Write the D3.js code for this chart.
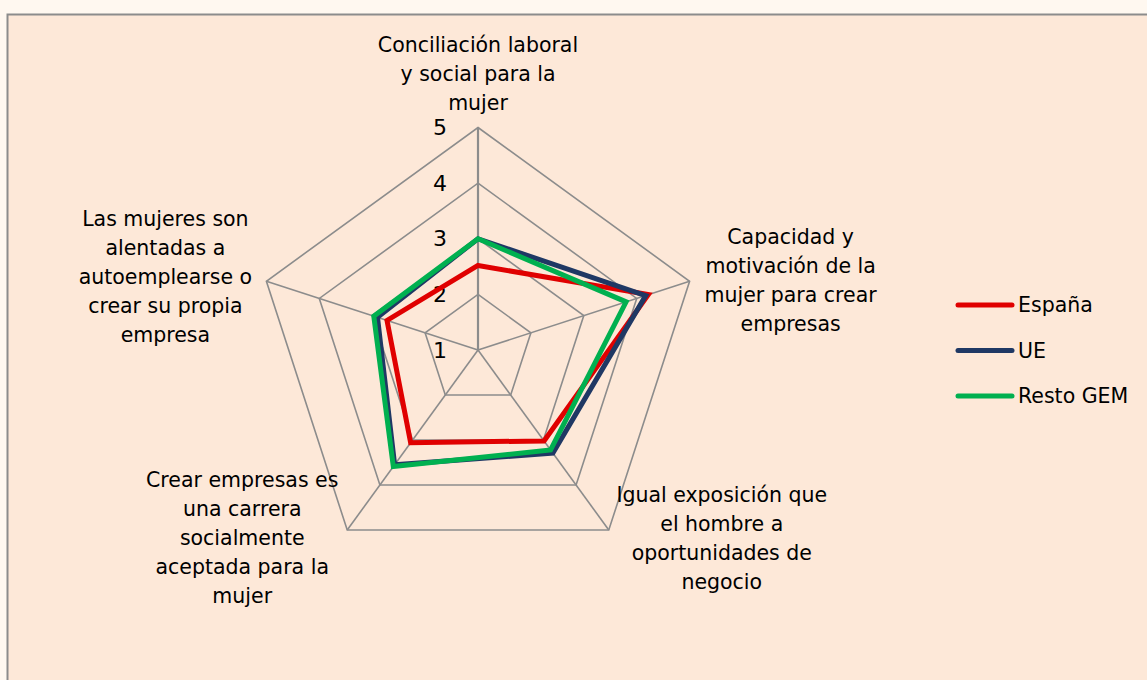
<html>
<head>
<meta charset="utf-8">
<script src="https://d3js.org/d3.v7.min.js"></script>
<style>
  body { margin: 0; background: #fff8f0; }
  svg { display: block; }
  text { font-family: "DejaVu Sans", sans-serif; fill: #000; }
</style>
</head>
<body>
<svg width="1147" height="680"></svg>
<script>
// axis categories (line breaks as in the original)
var categories = [
  ["Conciliación laboral", "y social para la", "mujer"],
  ["Capacidad y", "motivación de la", "mujer para crear", "empresas"],
  ["Igual exposición que", "el hombre a", "oportunidades de", "negocio"],
  ["Crear empresas es", "una carrera", "socialmente", "aceptada para la", "mujer"],
  ["Las mujeres son", "alentadas a", "autoemplearse o", "crear su propia", "empresa"]
];
var seriesNames = ["España", "UE", "Resto GEM"];
var espana = [2.52, 4.22, 3.02, 3.06, 2.72];
var ue     = [3.0, 4.17, 3.29, 3.55, 2.9];
var resto  = [3.0, 3.8, 3.22, 3.59, 2.97];
var ticks = [1, 2, 3, 4, 5];
var colors = ["#e00000", "#1f3864", "#00b050"];

var svg = d3.select("svg");

// background panel
svg.append("rect")
  .attr("x", 7.5).attr("y", 14.5)
  .attr("width", 1150).attr("height", 700)
  .attr("fill", "#fde8d8")
  .attr("stroke", "#8c8c8c")
  .attr("stroke-width", 2);

var cx = 478, cy = 350;
var r = d3.scaleLinear().domain([1, 5]).range([0, 222.5]);
var n = categories.length;
function angle(i) { return -Math.PI / 2 + i * 2 * Math.PI / n; }
function pt(i, v) { return [cx + r(v) * Math.cos(angle(i)), cy + r(v) * Math.sin(angle(i))]; }

var g = svg.append("g");

// grid pentagons
ticks.slice(1).forEach(function(t) {
  g.append("polygon")
    .attr("points", d3.range(n).map(function(i) { return pt(i, t).join(","); }).join(" "))
    .attr("fill", "none")
    .attr("stroke", "#8c8c8c")
    .attr("stroke-width", 1.6);
});
// spokes
d3.range(n).forEach(function(i) {
  var p = pt(i, 5);
  g.append("line")
    .attr("x1", cx).attr("y1", cy)
    .attr("x2", p[0]).attr("y2", p[1])
    .attr("stroke", "#8c8c8c")
    .attr("stroke-width", i == 0 ? 2.2 : 1.6);
});

// tick labels
g.selectAll(".tick").data(ticks).enter().append("text")
  .attr("x", cx - 38)
  .attr("y", function(d) { return cy - r(d); })
  .attr("dy", "0.35em")
  .attr("text-anchor", "middle")
  .style("font-size", "22px")
  .text(function(d) { return d; });

// series
var line = d3.line().curve(d3.curveLinearClosed);
[espana, ue, resto].forEach(function(s, k) {
  g.append("path")
    .attr("d", line(s.map(function(v, i) { return pt(i, v); })))
    .attr("fill", "none")
    .attr("stroke", colors[k])
    .attr("stroke-width", 5)
    .attr("stroke-linejoin", "miter");
});

// category labels: [center x offset, first line y offset] from outer vertex
var labelPos = [[0, -83], [101, -44], [113, -35], [-105, -50], [-101, -62]];
var lh = 29;
categories.forEach(function(lines, i) {
  var p = pt(i, 5);
  var t = g.append("text")
    .attr("text-anchor", "middle")
    .style("font-size", "20.5px");
  lines.forEach(function(l, j) {
    t.append("tspan")
      .attr("x", p[0] + labelPos[i][0])
      .attr("y", p[1] + labelPos[i][1] + j * lh)
      .attr("dy", "0.35em")
      .text(l);
  });
});

// legend
var leg = svg.append("g").attr("transform", "translate(958,305)");
seriesNames.forEach(function(name, k) {
  var row = leg.append("g").attr("transform", "translate(0," + (k * 45.5) + ")");
  row.append("line")
    .attr("x1", 0).attr("x2", 54)
    .attr("stroke", colors[k])
    .attr("stroke-width", 5)
    .attr("stroke-linecap", "round");
  row.append("text")
    .attr("x", 60).attr("dy", "0.35em")
    .style("font-size", "20.5px")
    .text(name);
});
</script>
</body>
</html>
